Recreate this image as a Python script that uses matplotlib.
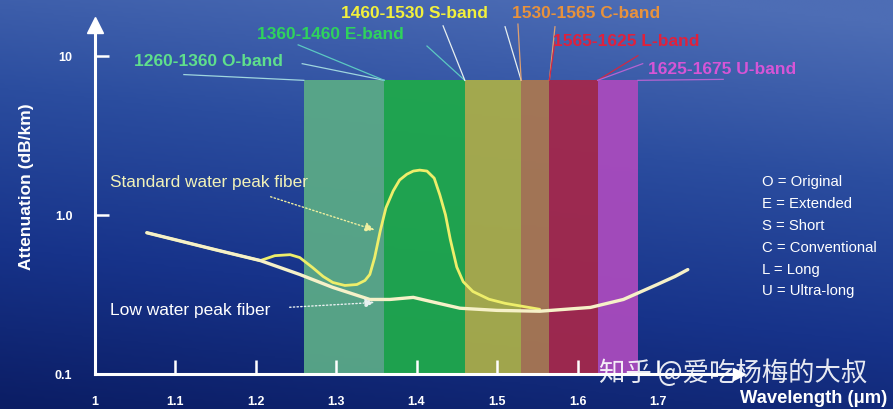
import numpy as np
import matplotlib
matplotlib.use('Agg')
import matplotlib.pyplot as plt
from matplotlib.colors import LinearSegmentedColormap

plt.rcParams['font.family'] = ['Liberation Sans', 'DejaVu Sans']

# bands (um)
band_names = ['O', 'E', 'S', 'C', 'L', 'U']
band_lo = [1.260, 1.360, 1.460, 1.530, 1.565, 1.625]
band_hi = [1.360, 1.460, 1.530, 1.565, 1.625, 1.675]
band_top = 7.0
band_colors = ['#5aa987', '#1fa84c', '#a9ad4a', '#a97752', '#a3284c', '#a94bbd']
band_labels = ['1260-1360 O-band', '1360-1460 E-band', '1460-1530 S-band',
               '1530-1565 C-band', '1565-1625 L-band', '1625-1675 U-band']
label_colors = ['#5fdf8c', '#2fd35c', '#f2f03c', '#e8923c', '#e0213c', '#d655d6']
line_colors = ['#9fd6df', '#5cc9c2', '#e8f0f0', '#e0a070', '#d02844', '#b563d2']

# attenuation curves (dB/km)
low_x = [1.065, 1.100, 1.150, 1.206, 1.255, 1.296, 1.342, 1.367, 1.396, 1.417,
         1.454, 1.500, 1.553, 1.616, 1.657, 1.699, 1.721, 1.737]
low_y = [0.772, 0.698, 0.604, 0.516, 0.422, 0.350, 0.294, 0.294, 0.303, 0.286,
         0.259, 0.251, 0.248, 0.262, 0.294, 0.365, 0.410, 0.453]

std_x = [1.065, 1.100, 1.150, 1.206, 1.224, 1.243, 1.255, 1.271, 1.284, 1.296,
         1.311, 1.326, 1.336, 1.342, 1.348, 1.355, 1.362, 1.371, 1.379, 1.388,
         1.396, 1.404, 1.413, 1.422, 1.429, 1.436, 1.442, 1.450, 1.458, 1.470,
         1.490, 1.510, 1.553]
std_y = [0.772, 0.698, 0.604, 0.516, 0.554, 0.562, 0.539, 0.466, 0.410, 0.376,
         0.360, 0.365, 0.387, 0.422, 0.539, 0.794, 1.106, 1.413, 1.655, 1.800,
         1.884, 1.910, 1.884, 1.700, 1.334, 1.000, 0.700, 0.470, 0.380, 0.330,
         0.295, 0.278, 0.255]

x_ticks = [1.0, 1.1, 1.2, 1.3, 1.4, 1.5, 1.6, 1.7]
x_ticklabels = ['1', '1.1', '1.2', '1.3', '1.4', '1.5', '1.6', '1.7']
y_ticks = [0.1, 1.0, 10]
y_ticklabels = ['0.1', '1.0', '10']

legend_lines = ['O = Original', 'E = Extended', 'S = Short',
                'C = Conventional', 'L = Long', 'U = Ultra-long']

W, H = 893, 410
fig = plt.figure(figsize=(W / 100, H / 100), dpi=100)

# background gradient, lighter towards the top right
bg = fig.add_axes([0, 0, 1, 1], zorder=-5)
cmap = LinearSegmentedColormap.from_list('bg', ['#0b1d64', '#17338a', '#2b4d9f', '#4d6db5'])
gy, gx = np.mgrid[0:1:200j, 0:1:400j]
grad = np.clip(0.85 * gy + 0.2 * gx, 0, 1)
bg.imshow(grad, aspect='auto', cmap=cmap, extent=[0, 1, 0, 1], origin='lower')
bg.axis('off')

ax = fig.add_axes([94.5 / W, 35 / H, (W - 94.5) / W, 375 / H])
ax.set_facecolor('none')
ax.set_yscale('log')
ax.set_xlim(1.0, 1.9919)
ax.set_ylim(0.1, 22.71)

# bands
for lo, hi, c in zip(band_lo, band_hi, band_colors):
    ax.bar(lo, band_top - 0.1, bottom=0.1, width=hi - lo, align='edge',
           color=c, alpha=0.95, linewidth=0, zorder=1)

# band labels with leader lines
label_pos = [(1.141, 9.31), (1.2925, 13.7), (1.398, 18.8),
             (1.6106, 18.6), (1.660, 12.4), (1.7795, 8.29)]
line_start = [((1.111, 7.61), (1.258, 8.91)), ((1.253, 11.7), (1.413, 11.5)),
              ((1.433, 15.4), (1.510, 15.2)), ((1.526, 15.8), (1.572, 15.2)),
              ((1.572, 12.2), (1.675, 10.0)), ((1.681, 8.91), (1.781, 7.1))]
for i in range(len(band_names)):
    ax.text(label_pos[i][0], label_pos[i][1], band_labels[i], color=label_colors[i],
            fontsize=12.5, fontweight='bold', ha='center', va='center', zorder=5)
    (s1, s2) = line_start[i]
    ax.plot([s1[0], band_lo[i]], [s1[1], band_top], color=line_colors[i], lw=0.9, zorder=4)
    ax.plot([s2[0], band_hi[i]], [s2[1], band_top], color=line_colors[i], lw=0.9, zorder=4)

# curves
ax.plot(std_x, std_y, color='#eeee6a', lw=2.0, zorder=6, solid_capstyle='round')
ax.plot(low_x, low_y, color='#f6f1c8', lw=2.4, zorder=7, solid_capstyle='round')

ax.text(1.019, 1.61, 'Standard water peak fiber', color='#f2f2b8', fontsize=12.4,
        ha='left', va='center', zorder=8)
ax.annotate('', xy=(1.351, 0.794), xytext=(1.2155, 1.315),
            arrowprops=dict(arrowstyle='-|>', linestyle=':', color='#f0f0a0', lw=1.0,
                            mutation_scale=14), zorder=8)
ax.text(1.019, 0.255, 'Low water peak fiber', color='#ffffff', fontsize=12.5,
        ha='left', va='center', zorder=8)
ax.annotate('', xy=(1.351, 0.282), xytext=(1.239, 0.262),
            arrowprops=dict(arrowstyle='-|>', linestyle=':', color='#e8f0f0', lw=1.0,
                            mutation_scale=14), zorder=8)

# legend block
for i, t in enumerate(legend_lines):
    ax.text(1.829, 10 ** ((217 - 183 - 22 * i) / 160), t, color='white', fontsize=10.7,
            ha='left', va='center', zorder=8)

# axes styling
for s in ['top', 'right']:
    ax.spines[s].set_visible(False)
ax.spines['left'].set_bounds(0.1, 15)
ax.spines['bottom'].set_bounds(1.0, 1.80)
for s in ['left', 'bottom']:
    ax.spines[s].set_color('white')
    ax.spines[s].set_linewidth(2.2)
ax.plot([1.0], [15.5], marker='^', color='white', markersize=11, clip_on=False, zorder=9)
ax.plot([1.80], [0.1], marker='>', color='white', markersize=8, clip_on=False, zorder=9)

ax.set_xticks(x_ticks)
ax.set_xticklabels(x_ticklabels)
ax.set_yticks(y_ticks)
ax.set_yticklabels(y_ticklabels)
ax.minorticks_off()
ax.tick_params(axis='both', direction='in', colors='white', length=10, width=1.8,
               labelsize=9)
ax.tick_params(axis='x', pad=15)
ax.tick_params(axis='y', pad=16)
for lab in ax.get_xticklabels() + ax.get_yticklabels():
    lab.set_fontweight('bold')

fig.text(27 / W, 1 - 187 / H, 'Attenuation (dB/km)', rotation=90, color='white',
         fontsize=12.5, fontweight='bold', ha='center', va='center')
fig.text(814 / W, 1 - 399 / H, 'Wavelength (\u03bcm)', color='white',
         fontsize=13.2, fontweight='bold', ha='center', va='center')

fig.text(733 / W, 1 - 373 / H, '知乎 @爱吃杨梅的大叔', color='white', alpha=0.9,
         fontsize=19, ha='center', va='center',
         family=['Noto Sans CJK SC', 'DejaVu Sans'])

fig.savefig('out.png', dpi=100)
